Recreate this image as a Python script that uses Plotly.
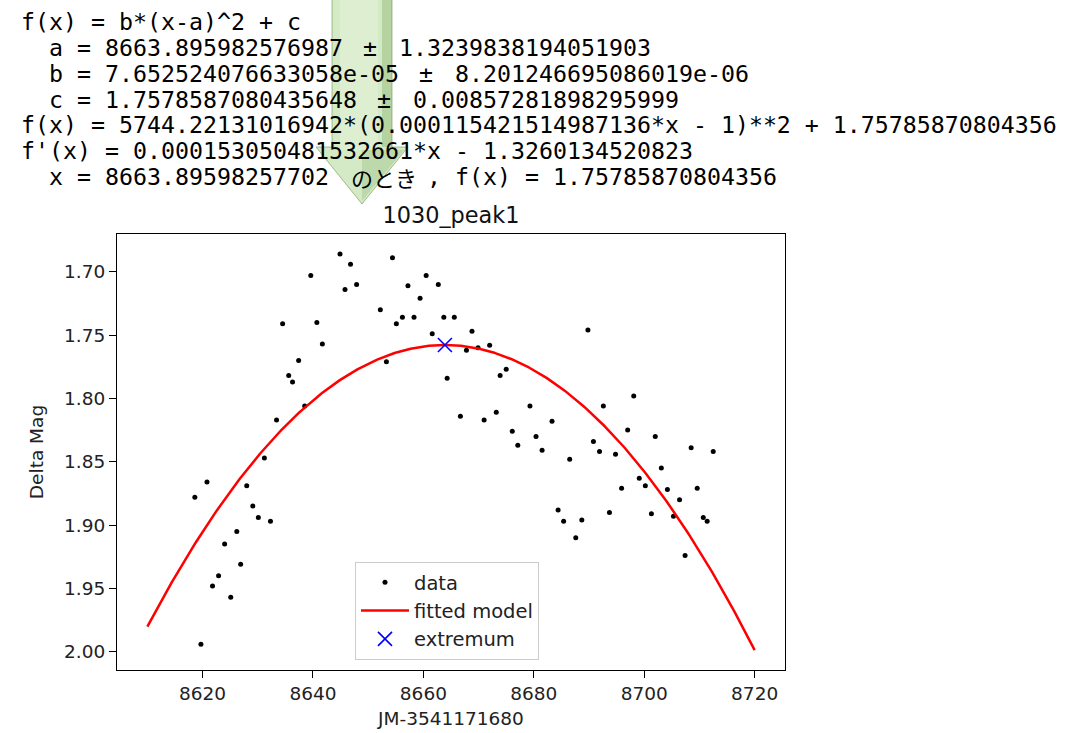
import numpy as np
import plotly.graph_objects as go

# Observed light-curve points: time offset and differential magnitude
jd_offset = [
    8644.9, 8646.8, 8654.4, 8639.6, 8645.8, 8647.9, 8657.2, 8660.5, 8662.7, 8659.4,
    8652.2, 8655.1, 8656.2, 8658.3, 8663.7, 8661.6, 8634.5, 8640.7, 8641.7, 8637.4,
    8635.6, 8636.3, 8653.3, 8638.5, 8633.4, 8664.3, 8665.6, 8668.8, 8667.8, 8669.9,
    8672.0, 8673.9, 8675.0, 8689.8, 8698.1, 8692.6, 8679.3, 8666.7, 8671.0, 8673.2,
    8683.3, 8676.1, 8680.4, 8697.0, 8702.0, 8690.8, 8677.1, 8681.5, 8708.5, 8712.5,
    8686.5, 8691.9, 8694.8, 8703.1, 8699.1, 8700.2, 8695.9, 8704.2, 8709.6, 8706.4,
    8684.4, 8685.4, 8688.7, 8687.6, 8693.7, 8701.3, 8705.3, 8710.7, 8711.4, 8707.4,
    8631.2, 8620.8, 8618.6, 8628.0, 8629.1, 8630.1, 8632.3, 8626.2, 8624.0, 8626.9,
    8622.9, 8621.8, 8625.1, 8619.7,
]
delta_mag = [
    1.686, 1.694, 1.689, 1.703, 1.714, 1.710, 1.711, 1.703, 1.710, 1.721,
    1.730, 1.741, 1.736, 1.736, 1.736, 1.749, 1.741, 1.740, 1.757, 1.770,
    1.782, 1.787, 1.771, 1.806, 1.817, 1.784, 1.736, 1.747, 1.762, 1.760,
    1.758, 1.782, 1.777, 1.746, 1.798, 1.806, 1.806, 1.814, 1.817, 1.811,
    1.818, 1.826, 1.830, 1.825, 1.830, 1.834, 1.837, 1.841, 1.839, 1.842,
    1.848, 1.842, 1.844, 1.855, 1.863, 1.869, 1.871, 1.872, 1.871, 1.880,
    1.888, 1.897, 1.896, 1.910, 1.890, 1.891, 1.893, 1.894, 1.897, 1.924,
    1.847, 1.866, 1.878, 1.869, 1.885, 1.894, 1.897, 1.905, 1.915, 1.931,
    1.940, 1.948, 1.957, 1.994,
]

# Least-squares parameters of f(x) = b*(x-a)^2 + c and their errors
fit_a = 8663.895982576987
fit_b = 7.652524076633058e-05
fit_c = 1.7578587080435648
fit_a_err = 1.3239838194051903
fit_b_err = 8.201246695086019e-06
fit_c_err = 0.00857281898295999
model_span = [8610, 8720]

# Stationary point from f'(x) = 0
extremum_x = 8663.89598257702
extremum_y = 1.75785870804356

x_ticks = [8620, 8640, 8660, 8680, 8700, 8720]
y_ticks = [1.70, 1.75, 1.80, 1.85, 1.90, 1.95, 2.00]

plot_title = "1030_peak1"
x_title = "JM-3541171680"
y_title = "Delta Mag"

# ---- page geometry (pixels) ----
W, H = 1079, 733
ML, MR, MT, MB = 117, 294, 234, 63
PW = W - ML - MR
PH = H - MT - MB


def px_x(px):
    return (px - ML) / PW


def px_y(py):
    return (H - MB - py) / PH


model_x = np.linspace(model_span[0], model_span[1], 400)
model_y = fit_b * (model_x - fit_a) ** 2 + fit_c

fig = go.Figure()
fig.add_trace(go.Scatter(
    x=jd_offset, y=delta_mag, mode="markers", name="data",
    marker=dict(color="black", size=5),
))
fig.add_trace(go.Scatter(
    x=model_x, y=model_y, mode="lines", name="fitted model",
    line=dict(color="#ff0000", width=2.5),
))
fig.add_trace(go.Scatter(
    x=[extremum_x], y=[extremum_y], mode="markers", name="extremum",
    marker=dict(symbol="x-thin", size=14, color="#0000ff",
                line=dict(color="#0000ff", width=1.6)),
))

# ---- fit report printed above the axes (monospace grid) ----
MONO = "DejaVu Sans Mono"
CJK = "Noto Sans CJK JP"
CELL = 14
X0 = 20
ROW_Y = [21, 47, 73, 99, 124, 150, 176]

# (row, column, text, number of cells for double-width text or 0)
report = [
    (0, 0, "f(x) = b*(x-a)^2 + c", 0),
    (1, 2, f"a = {fit_a!r}", 0), (1, 24, "±", 2), (1, 27, repr(fit_a_err), 0),
    (2, 2, f"b = {fit_b!r}", 0), (2, 28, "±", 2), (2, 31, repr(fit_b_err), 0),
    (3, 2, f"c = {fit_c!r}", 0), (3, 25, "±", 2), (3, 28, repr(fit_c_err), 0),
    (4, 0, "f(x) = 5744.22131016942*(0.000115421514987136*x - 1)**2 + 1.75785870804356", 0),
    (5, 0, "f'(x) = 0.000153050481532661*x - 1.3260134520823", 0),
    (6, 2, f"x = {extremum_x!r}", 0),
    (6, 23, "のとき", 6),
    (6, 29, f", f(x) = {extremum_y!r}", 0),
]

annotations = []
for row, col, text, cells in report:
    if cells:
        cjk = text != "±"
        annotations.append(dict(
            x=px_x(X0 + (col + cells / 2) * CELL), y=px_y(ROW_Y[row] + (1 if cjk else 0)),
            xref="paper", yref="paper", xanchor="center", yanchor="middle",
            text=text, showarrow=False, borderpad=0,
            font=dict(family=CJK if cjk else MONO, size=22 if cjk else 23.25, color="black"),
        ))
    else:
        annotations.append(dict(
            x=px_x(X0 + col * CELL), y=px_y(ROW_Y[row]),
            xref="paper", yref="paper", xanchor="left", yanchor="middle",
            text=text, showarrow=False, borderpad=0,
            font=dict(family=MONO, size=23.25, color="black"),
        ))

# ---- translucent green arrow pointing down at the title ----
def path(points):
    return "M " + " L ".join(f"{px_x(x):.5f},{px_y(y):.5f}" for x, y in points) + " Z"


arrow_outline = [(332, -5), (392, -5), (392, 147), (408, 147), (362, 204),
                 (316, 147), (332, 147)]
shapes = [
    dict(type="path", xref="paper", yref="paper", path=path(arrow_outline),
         fillcolor="rgba(170,212,140,0.5)", line=dict(color="rgba(110,150,80,0.6)", width=1),
         layer="above"),
    dict(type="path", xref="paper", yref="paper",
         path=path([(340, -5), (378, -5), (378, 150), (340, 150)]),
         fillcolor="rgba(240,248,232,0.35)", line=dict(width=0), layer="above"),
    dict(type="path", xref="paper", yref="paper",
         path=path([(382, -5), (392, -5), (392, 147), (382, 147)]),
         fillcolor="rgba(100,150,70,0.28)", line=dict(width=0), layer="above"),
    dict(type="path", xref="paper", yref="paper",
         path=path([(362, 150), (404, 150), (362, 201)]),
         fillcolor="rgba(100,150,70,0.2)", line=dict(width=0), layer="above"),
]

axis_common = dict(
    showline=True, mirror=True, linecolor="black", linewidth=1.2,
    ticks="outside", ticklen=7, tickwidth=1.2, tickcolor="black",
    showgrid=False, zeroline=False, automargin=False,
    tickfont=dict(family="DejaVu Sans", size=18.5, color="#222222"),
)

fig.update_layout(
    width=W, height=H,
    margin=dict(l=ML, r=MR, t=MT, b=MB),
    paper_bgcolor="white", plot_bgcolor="white",
    title=dict(text=plot_title, x=(ML + PW / 2) / W,
               xanchor="center", y=1 - 215 / H, yanchor="middle",
               font=dict(family="DejaVu Sans", size=22.4, color="#111111")),
    xaxis=dict(range=[8604.5, 8725.5], tickvals=x_ticks,
               title=dict(text=x_title, standoff=8,
                          font=dict(family="DejaVu Sans", size=18.5, color="#222222")),
               **axis_common),
    yaxis=dict(range=[2.0144, 1.6702], tickvals=y_ticks, tickformat=".2f",
               title=dict(text=y_title, standoff=15,
                          font=dict(family="DejaVu Sans", size=18.5, color="#222222")),
               **axis_common),
    legend=dict(x=px_x(355), y=px_y(562), xanchor="left", yanchor="top",
                bgcolor="rgba(255,255,255,0.85)", bordercolor="#cccccc", borderwidth=1,
                font=dict(family="DejaVu Sans", size=19.5, color="#222222"),
                itemwidth=48),
    annotations=annotations,
    shapes=shapes,
    showlegend=True,
)

fig.write_html("out.html")
